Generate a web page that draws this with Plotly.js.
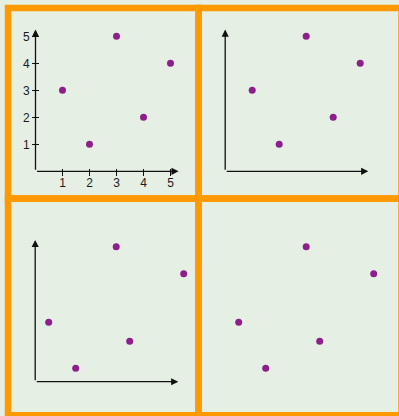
<!DOCTYPE html>
<html>
<head>
<meta charset="utf-8">
<script src="https://cdn.plot.ly/plotly-3.0.1.min.js"></script>
<style>
  html, body { margin: 0; padding: 0; background: #e5efe4; }
  #chart { width: 399px; height: 416px; }
</style>
</head>
<body>
<div id="chart"></div>
<script>
// Scatter points: upper row
const xTop = [1, 2, 3, 4, 5];
const yTop = [3, 1, 5, 2, 4];
// Scatter points: lower row
const xBottom = [0.5, 1.5, 3, 3.5, 5.5];
const yBottom = [2.2, 0.5, 5, 1.5, 4];
// Tick marks on the first panel
const tickValues = [1, 2, 3, 4, 5];
const tickLabels = ['1', '2', '3', '4', '5'];
// Where the axis arrows end, in data units
const xArrowEnd = 5.3;
const yArrowEnd = 5.25;

const W = 399, H = 416;
const UNIT = 27;          // pixels per data unit
const SPAN = 6;           // visible data units per axis
const TICK = 7;           // full tick length, centred on the axis line
const px = v => v / W;
const py = v => 1 - v / H;

const PURPLE = '#8c1f8c';
const ORANGE = '#ff9900';
const BG = '#e5efe4';

// origin (pixel) of each panel, and what it shows
const panels = [
  { ox: 35.5,  oy: 171.3, xs: xTop,    ys: yTop,    ticks: true,  arrows: true },
  { ox: 225.2, oy: 171.3, xs: xTop,    ys: yTop,    ticks: false, arrows: true },
  { ox: 35.2,  oy: 381.7, xs: xBottom, ys: yBottom, ticks: false, arrows: true },
  { ox: 225.2, oy: 381.7, xs: xBottom, ys: yBottom, ticks: false, arrows: false }
];

const traces = [];
const layout = {
  width: W, height: H,
  margin: { l: 0, r: 0, t: 0, b: 0, pad: 0 },
  paper_bgcolor: BG,
  plot_bgcolor: 'rgba(0,0,0,0)',
  showlegend: false,
  font: { family: '"Liberation Sans", Arial, sans-serif', size: 12, color: '#1a1a1a' },
  annotations: [],
  shapes: []
};

const baseAxis = {
  range: [0, SPAN], showgrid: false, zeroline: false, showline: false,
  fixedrange: true, ticks: '', showticklabels: false
};

panels.forEach((p, i) => {
  const n = i + 1;
  const xa = 'xaxis' + (n === 1 ? '' : n);
  const ya = 'yaxis' + (n === 1 ? '' : n);
  const xr = 'x' + (n === 1 ? '' : n);
  const yr = 'y' + (n === 1 ? '' : n);

  layout[xa] = Object.assign({}, baseAxis, {
    domain: [px(p.ox), px(p.ox + SPAN * UNIT)], anchor: yr
  });
  layout[ya] = Object.assign({}, baseAxis, {
    domain: [py(p.oy), py(p.oy - SPAN * UNIT)], anchor: xr
  });

  if (p.ticks) {
    // axes sit half a tick inside, so the outside ticks cross the arrow lines
    Object.assign(layout[xa], {
      anchor: 'free', position: py(p.oy - TICK / 2),
      tickmode: 'array', tickvals: tickValues, ticktext: tickLabels,
      ticks: 'outside', ticklen: TICK, tickwidth: 1.2, tickcolor: '#111',
      showticklabels: true, ticklabelstandoff: -3
    });
    Object.assign(layout[ya], {
      anchor: 'free', position: px(p.ox + TICK / 2),
      tickmode: 'array', tickvals: tickValues, ticktext: tickLabels,
      ticks: 'outside', ticklen: TICK, tickwidth: 1.2, tickcolor: '#111',
      showticklabels: true
    });
  }

  if (p.arrows) {
    const arrow = {
      xref: xr, yref: yr, axref: xr, ayref: yr, text: '', showarrow: true,
      arrowhead: 2, arrowsize: 1.1, arrowwidth: 1.3, arrowcolor: '#111',
      ax: 0, ay: 0
    };
    layout.annotations.push(Object.assign({}, arrow, { x: xArrowEnd, y: 0 }));
    layout.annotations.push(Object.assign({}, arrow, { x: 0, y: yArrowEnd }));
  }

  traces.push({
    type: 'scatter', mode: 'markers', x: p.xs, y: p.ys,
    xaxis: xr, yaxis: yr, cliponaxis: false, hoverinfo: 'skip',
    marker: { color: PURPLE, size: 7, line: { width: 0 } }
  });
});

// orange frames round the four panels
const edgesX = [8, 198.5, 401.5];
const edgesY = [8, 198.5, 415.3];
for (let r = 0; r < 2; r++) {
  for (let c = 0; c < 2; c++) {
    layout.shapes.push({
      type: 'rect', xref: 'paper', yref: 'paper', layer: 'above',
      x0: px(edgesX[c]), x1: px(edgesX[c + 1]),
      y0: py(edgesY[r]), y1: py(edgesY[r + 1]),
      line: { color: ORANGE, width: 6.5 }, fillcolor: 'rgba(0,0,0,0)'
    });
  }
}

Plotly.newPlot('chart', traces, layout, { displayModeBar: false, staticPlot: true });
</script>
</body>
</html>
